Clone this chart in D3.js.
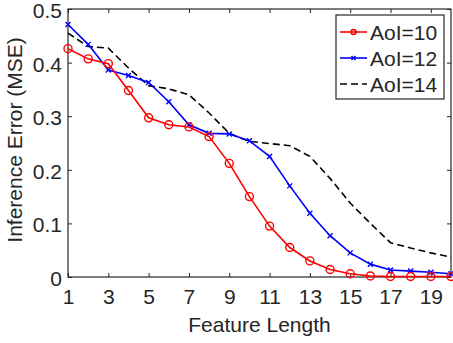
<!DOCTYPE html>
<html>
<head>
<meta charset="utf-8">
<style>
  body { margin: 0; background: #fff; }
  text { font-family: "Liberation Sans", Arial, sans-serif; fill: #262626; }
</style>
</head>
<body>
<div id="chart"></div>
<script src="https://cdn.jsdelivr.net/npm/d3@7"></script>
<script>
// feature lengths 1..20
var featureLength = [1,2,3,4,5,6,7,8,9,10,11,12,13,14,15,16,17,18,19,20];
var aoi10 = [0.426,0.407,0.398,0.348,0.297,0.284,0.280,0.262,0.212,0.150,0.095,0.055,0.030,0.014,0.006,0.002,0.001,0.001,0.001,0.001];
var aoi12 = [0.471,0.434,0.386,0.376,0.363,0.327,0.284,0.268,0.267,0.254,0.225,0.170,0.119,0.077,0.045,0.024,0.013,0.011,0.009,0.006];
var aoi14 = [0.455,0.430,0.427,0.390,0.357,0.351,0.340,0.306,0.268,0.253,0.249,0.245,0.225,0.184,0.138,0.100,0.064,0.054,0.045,0.037];
var xTicks = [1,3,5,7,9,11,13,15,17,19];
var yTicks = [0,0.1,0.2,0.3,0.4,0.5];
var seriesNames = ["AoI=10","AoI=12","AoI=14"];

var W = 453, H = 343;
var margin = {top: 9, right: 2, bottom: 66, left: 68};
var fs = "21px";

var svg = d3.select("#chart").append("svg")
  .attr("width", W).attr("height", H);

var x = d3.scaleLinear().domain([1, 20]).range([margin.left, W - margin.right]);
var y = d3.scaleLinear().domain([0, 0.5]).range([H - margin.bottom, margin.top]);

var axisColor = "#262626";

// box
svg.append("rect")
  .attr("x", x(1)).attr("y", y(0.5))
  .attr("width", x(20) - x(1)).attr("height", y(0) - y(0.5))
  .attr("fill", "none").attr("stroke", axisColor).attr("stroke-width", 1.2);

// bottom axis
svg.append("g").attr("transform", "translate(0," + y(0) + ")")
  .call(d3.axisBottom(x).tickValues(xTicks).tickSize(-4).tickPadding(12).tickFormat(d3.format("d")));
// top ticks
svg.append("g").attr("transform", "translate(0," + y(0.5) + ")")
  .call(d3.axisTop(x).tickValues(xTicks).tickSize(-4).tickFormat(""));
// left axis
var gy = svg.append("g").attr("transform", "translate(" + x(1) + ",0)")
  .call(d3.axisLeft(y).tickValues(yTicks).tickSize(-4).tickPadding(6).tickFormat(function(d){ return d === 0 ? "0" : d3.format(".1f")(d); }));
gy.selectAll(".tick text").attr("dy", "0.4em");
// right ticks
svg.append("g").attr("transform", "translate(" + x(20) + ",0)")
  .call(d3.axisRight(y).tickValues(yTicks).tickSize(-4).tickFormat(""));

svg.selectAll(".domain").remove();
svg.selectAll(".tick line").attr("stroke", axisColor).attr("stroke-width", 1);
svg.selectAll(".tick text").style("font-size", fs).attr("fill", axisColor)
  .style("font-family", "'Liberation Sans', Arial, sans-serif");

// axis titles
svg.append("text")
  .attr("x", (x(1) + x(20)) / 2).attr("y", 332)
  .attr("text-anchor", "middle").style("font-size", fs)
  .text("Feature Length");
svg.append("text")
  .attr("transform", "translate(22,140) rotate(-90)")
  .attr("text-anchor", "middle").style("font-size", fs)
  .text("Inference Error (MSE)");

var line = d3.line().x(function(d, i){ return x(featureLength[i]); }).y(function(d){ return y(d); });

// AoI=14 dashed
svg.append("path").datum(aoi14)
  .attr("d", line).attr("fill", "none")
  .attr("stroke", "#000").attr("stroke-width", 1.6).attr("stroke-dasharray", "7,4");

// AoI=12 blue with x markers
svg.append("path").datum(aoi12)
  .attr("d", line).attr("fill", "none")
  .attr("stroke", "#0000ff").attr("stroke-width", 1.6);
svg.selectAll(".m12").data(aoi12).enter().append("path")
  .attr("class", "m12")
  .attr("d", function(d, i){
    var cx = x(featureLength[i]), cy = y(d), s = 2.5;
    return "M" + (cx - s) + "," + (cy - s) + "L" + (cx + s) + "," + (cy + s) +
           "M" + (cx - s) + "," + (cy + s) + "L" + (cx + s) + "," + (cy - s);
  })
  .attr("stroke", "#0000ff").attr("stroke-width", 1.4).attr("fill", "none");

// AoI=10 red with circles
svg.append("path").datum(aoi10)
  .attr("d", line).attr("fill", "none")
  .attr("stroke", "#ff0000").attr("stroke-width", 1.6);
svg.selectAll(".m10").data(aoi10).enter().append("circle")
  .attr("class", "m10")
  .attr("cx", function(d, i){ return x(featureLength[i]); })
  .attr("cy", function(d){ return y(d); })
  .attr("r", 4).attr("fill", "none")
  .attr("stroke", "#ff0000").attr("stroke-width", 1.4);

// legend
var lg = svg.append("g").attr("transform", "translate(336,15)");
lg.append("rect").attr("width", 108).attr("height", 84)
  .attr("fill", "#fff").attr("stroke", axisColor).attr("stroke-width", 1.2);
var rows = [
  {color: "#ff0000", dash: null, marker: "o"},
  {color: "#0000ff", dash: null, marker: "x"},
  {color: "#000", dash: "7,4", marker: null}
];
rows.forEach(function(r, i){
  var ry = 17 + i * 26;
  lg.append("line").attr("x1", 4).attr("x2", 31).attr("y1", ry).attr("y2", ry)
    .attr("stroke", r.color).attr("stroke-width", 1.6)
    .attr("stroke-dasharray", r.dash);
  if (r.marker === "o") {
    lg.append("circle").attr("cx", 17.5).attr("cy", ry).attr("r", 2.5)
      .attr("fill", "none").attr("stroke", r.color).attr("stroke-width", 1.4);
  } else if (r.marker === "x") {
    var s = 2;
    lg.append("path").attr("d", "M" + (17.5 - s) + "," + (ry - s) + "L" + (17.5 + s) + "," + (ry + s) +
      "M" + (17.5 - s) + "," + (ry + s) + "L" + (17.5 + s) + "," + (ry - s))
      .attr("stroke", r.color).attr("stroke-width", 1.4);
  }
  lg.append("text").attr("x", 34).attr("y", ry + 7.5)
    .style("font-size", fs).attr("fill", "#000").text(seriesNames[i]);
});
</script>
</body>
</html>
